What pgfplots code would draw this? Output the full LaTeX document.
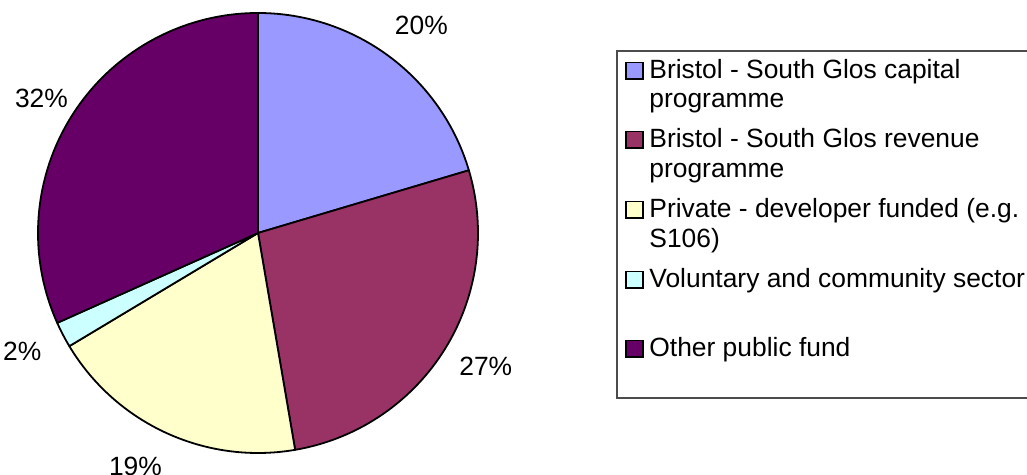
\documentclass[border=0pt]{standalone}
\usepackage{fontspec}
\setmainfont{Liberation Sans}
\usepackage{pgfplots}
\usepackage{pgfplotstable}
\pgfplotsset{compat=1.18}
\definecolor{pie0}{HTML}{9999FF}
\definecolor{pie1}{HTML}{993366}
\definecolor{pie2}{HTML}{FFFFCC}
\definecolor{pie3}{HTML}{CCFFFF}
\definecolor{pie4}{HTML}{660066}
% value = share in percent; loff = label angle offset (deg); lr = label radius
\pgfplotstableread{
idx value loff lr
0 20.4 -1.5 1.2
1 26.9 1.5 1.2
2 19.1 -3 1.2
3 1.9 -0.8 1.2
4 31.7 1 1.16
}\piedata
\begin{document}
\begin{tikzpicture}
\fontsize{13.2}{14.5}\selectfont
\useasboundingbox (0,0) rectangle (513.5pt,237.5pt);
\gdef\cum{0}
\pgfplotsforeachungrouped \i in {0,...,4}{%
  \pgfplotstablegetelem{\i}{value}\of\piedata
  \let\val\pgfplotsretval
  \pgfplotstablegetelem{\i}{loff}\of\piedata
  \let\loff\pgfplotsretval
  \pgfplotstablegetelem{\i}{lr}\of\piedata
  \let\lr\pgfplotsretval
  \pgfmathsetmacro\sa{90-3.6*\cum}%
  \pgfmathsetmacro\newcum{\cum+\val}%
  \xdef\cum{\newcum}%
  \pgfmathsetmacro\ea{90-3.6*\cum}%
  \pgfmathsetmacro\ma{(\sa+\ea)/2+\loff}%
  \pgfmathtruncatemacro\lab{round(\val)}%
  \expandafter\xdef\csname sa\i\endcsname{\sa}%
  \expandafter\xdef\csname ea\i\endcsname{\ea}%
  \expandafter\xdef\csname ma\i\endcsname{\ma}%
  \expandafter\xdef\csname lr\i\endcsname{\lr}%
  \expandafter\xdef\csname lab\i\endcsname{\lab}%
}
\begin{axis}[at={(129pt,121pt)}, anchor=center, width=220pt, height=220pt,
  scale only axis, hide axis, xmin=-1, xmax=1, ymin=-1, ymax=1, clip=false]
\pgfplotsinvokeforeach{0,...,4}{
  \filldraw[draw=black, line width=0.9pt, line join=round, fill=pie#1]
    (axis cs:0,0) -- (axis cs:{cos(\csname sa#1\endcsname)},{sin(\csname sa#1\endcsname)})
    arc[start angle=\csname sa#1\endcsname, end angle=\csname ea#1\endcsname, radius=110pt] -- cycle;
  \node at (axis cs:{\csname lr#1\endcsname*cos(\csname ma#1\endcsname)},{\csname lr#1\endcsname*sin(\csname ma#1\endcsname)}) {\csname lab#1\endcsname\%};
}
\end{axis}
% legend
\draw[line width=0.6pt, black!70] (308.5pt,38.5pt) -- (530pt,38.5pt) -- (530pt,212pt) -- (308.5pt,212pt) -- cycle;
\foreach \c/\y in {pie0/198, pie1/163.5, pie2/128.5, pie3/93.5, pie4/59}{
  \filldraw[fill=\c, draw=black, line width=0.7pt] (313pt,\y pt) rectangle (321.5pt,\y pt+8.3pt);
}
\foreach \t/\y in {{Bristol - South Glos capital}/198, {programme}/183.5,
  {Bristol - South Glos revenue}/163.5, {programme}/148.5,
  {Private - developer funded (e.g.}/128.5, {S106)}/113.5,
  {Voluntary and community sector}/93.5, {Other public fund}/59}{
  \node[anchor=base west, inner sep=0pt] at (324.5pt,\y pt) {\t};
}
\end{tikzpicture}
\end{document}
